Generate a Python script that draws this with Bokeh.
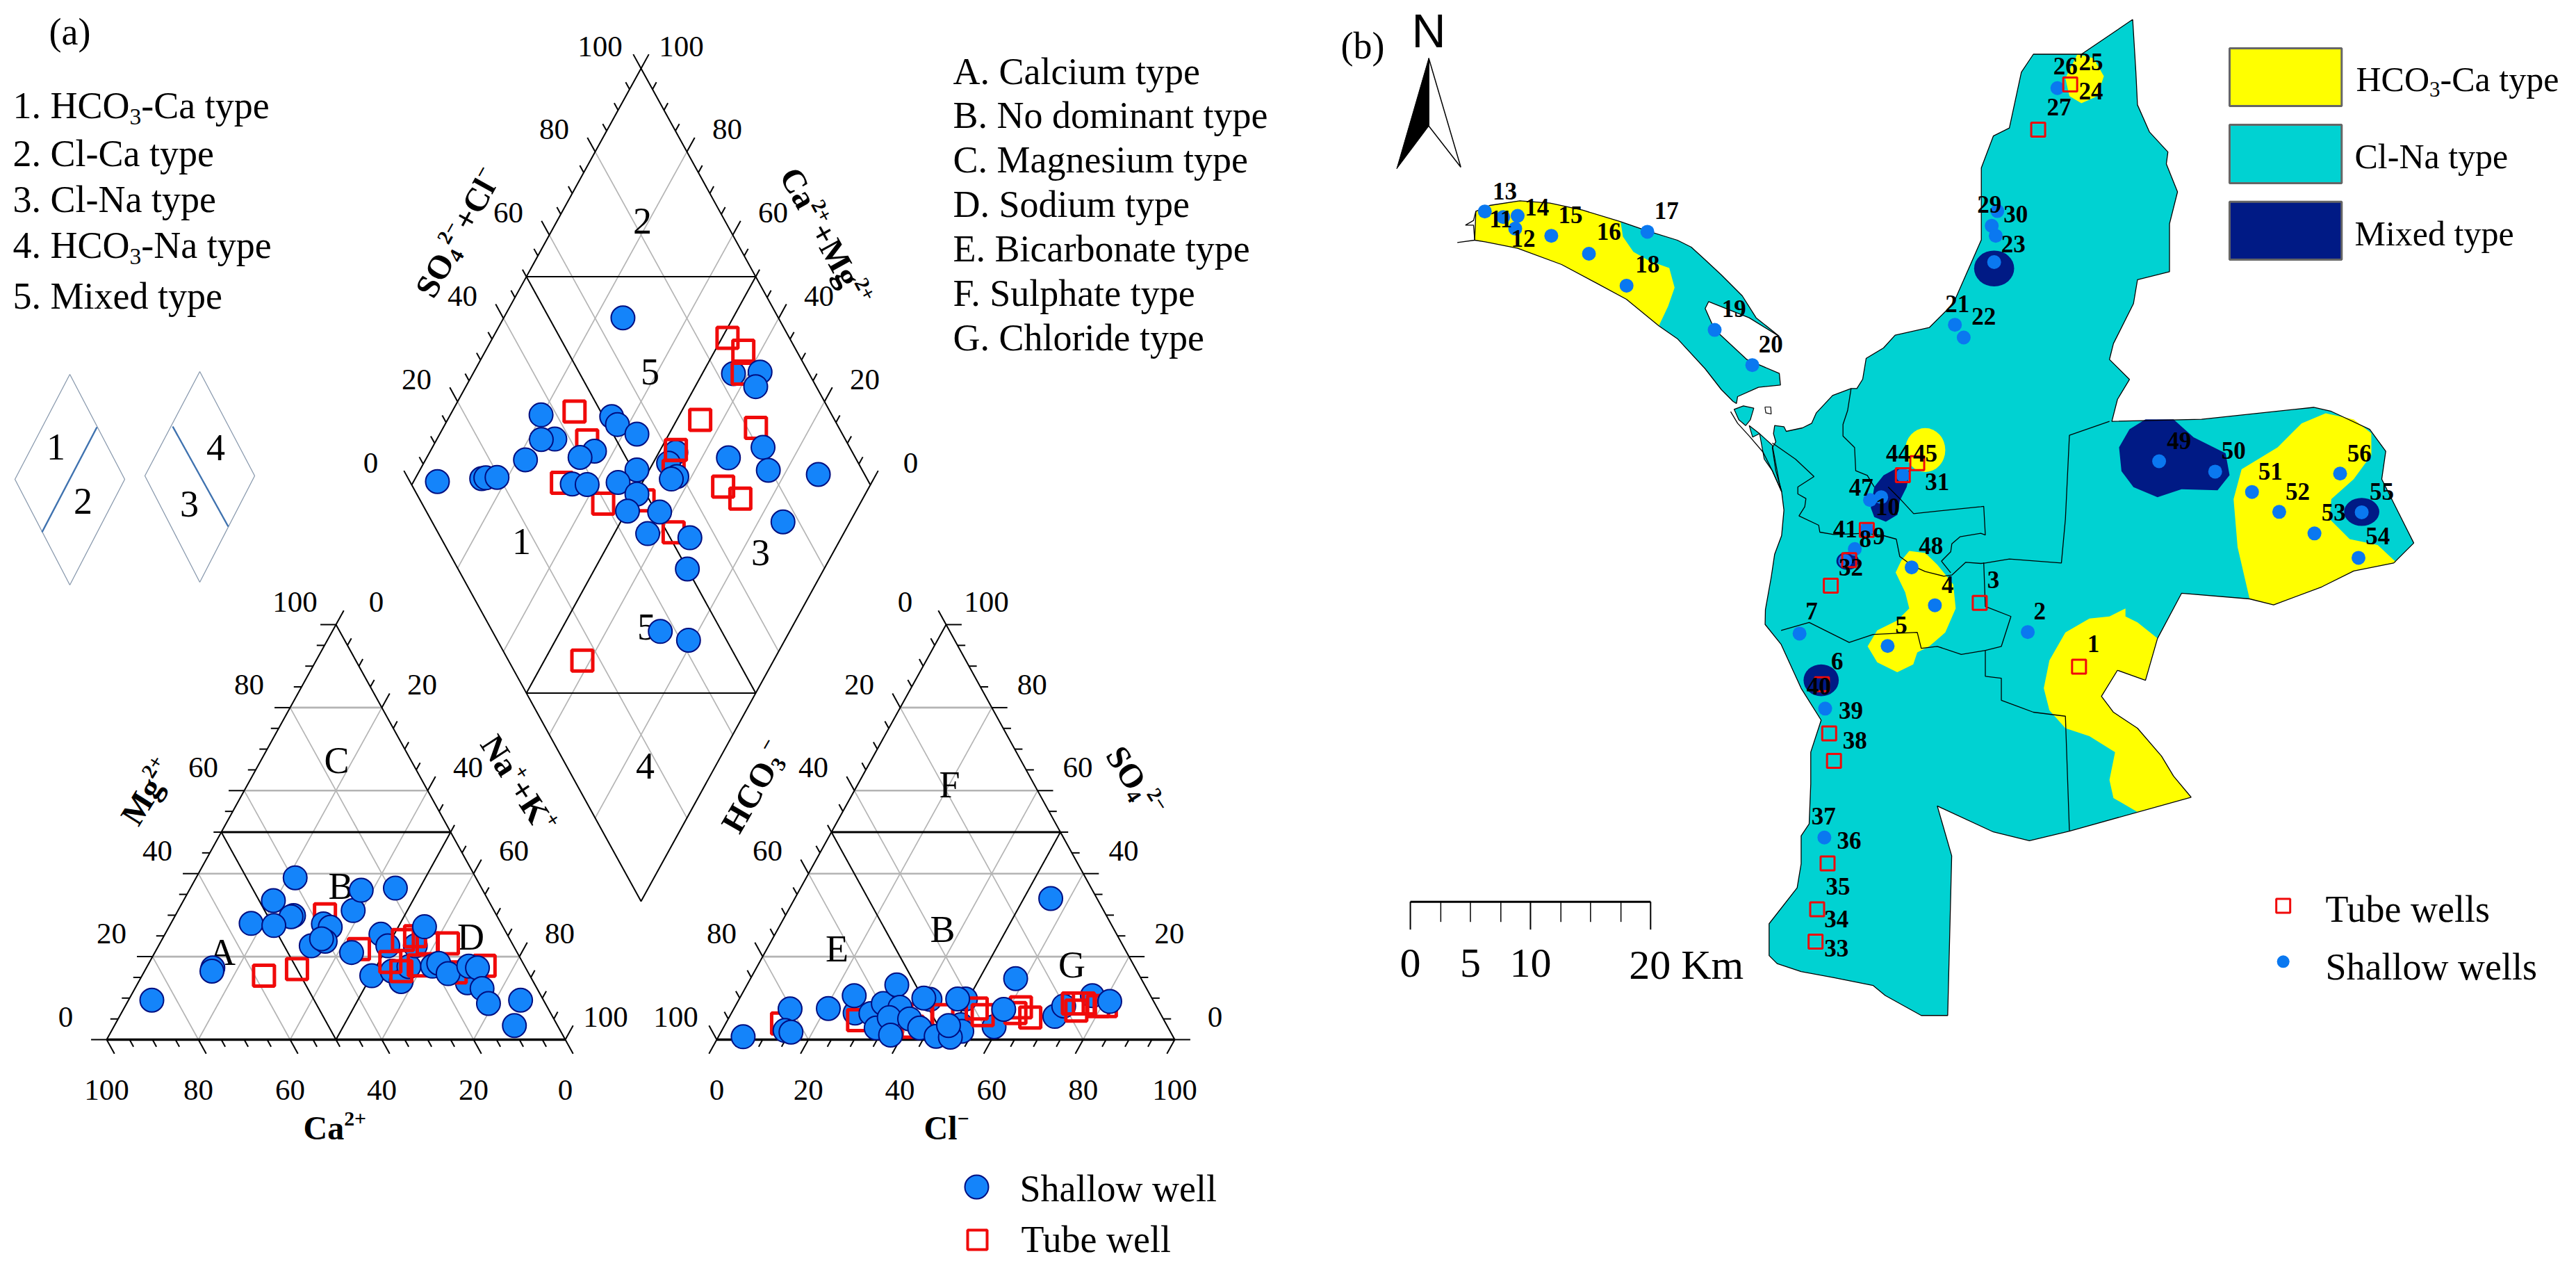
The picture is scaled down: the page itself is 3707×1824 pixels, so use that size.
import math
from bokeh.plotting import figure
from bokeh.models import Range1d
from bokeh.embed import file_html
from bokeh.resources import INLINE
from bokeh.core.properties import value

# ---- Piper data (percent) ----
cat_ca = [34.5,29.5,28.8,25.3,21.4,14.5,27.5,27.4,
          85.4,68.2,68.8,39.4,46.9,44.3,45,54.5,49.8,38.8,37.7,44.1,40.5,41,30.7,26.5,18.8,36.1,
          17.1,20.1,18.4,17.6,12.2,10.5,12,12.4,5,9.4]
cat_mg = [15.4,16.5,14,17.6,22.6,13.7,25.4,22.6,
          9.5,17.3,16.5,39,33.5,29.9,29.6,28,27.5,27.9,27.1,22.6,23.7,24.3,31.1,36,36.5,21,
          27.2,17.7,18.4,15.9,17.7,17.3,12.3,8.7,9.5,3.4]
N_CAT_BACK = 8
cat_tube_ca = [58,50,37.3,34.1,28.8,27.5,23.4,20.3,23,18.4,14,15.8,8.7]
cat_tube_mg = [15.4,17,30.2,21.8,18.7,16.5,24,24.9,17.9,23.2,23.2,16.2,17.8]

an_cl = [71,71.7,76.7,51.5,52.5,49.4,59,41.7,27,
         5.4,12.3,13.8,15.3,20.6,24.7,30.5,33.4,32,32.7,36.1,35,37.4,39.6,42.9,40.2,47.5,50.7,48.9,47.7,59,57.9,81.2,55.9]
an_so4 = [5.6,8.1,10.6,3.6,2,9.8,3.1,9.7,6.4,
          0.7,7.4,2.2,1.8,7.5,10.6,6.3,2.8,8.7,13.2,7.8,5.3,1.1,5,2.8,10,0.8,0.6,3.4,9.8,7.3,14.7,9.2,34]
N_AN_BACK = 9
an_tube_cl = [12.3,28.5,41.8,46.3,41.2,55.1,53,62.5,62,65.8,73.4,75.8,79.2,80.9,75]
an_tube_so4 = [3.9,4.7,6.1,5.9,3.1,5.9,7.5,7.8,6.4,5.3,8.7,8.7,8.1,8.1,7]

dia_p = [83.5,61.5,58.6,
         66.1,89.5,86.8,36.6,51.8,52.1,55.2,36.7,33.7,43.9,40,27.8,72.3,81.1,79.5,89.9,50.9,6,16,17,19.5,
         35.1,38.3,45.3,58.8,57.3,48,43.9,50.8,45.6,54.3,50,76.5,36.6,41.7]
dia_q = [43.2,46.3,46.6,
         74,37.6,36.8,80.2,64.6,62.4,57,74.3,77.2,64.2,66.6,78.2,34.2,27.9,24,12.6,52.7,94.8,85.5,84.7,82.3,
         65.1,61.8,55.3,43.2,44.1,49.8,49.8,42.7,42.7,33,29.8,14.6,28.2,21]
N_DIA_BACK = 3
dia_tube_p = [86.5,88.4,85.5,44.3,70.7,81.9,43.6,61.8,58.8,33,67.7,70,39.5,48.7,51.4,16.1]
dia_tube_q = [48.8,43.8,41.2,73.3,44.9,31.8,67.1,46.6,44.6,67.5,31.9,26.7,56,47.6,37.2,41.7]

tick_labels = [0,20,40,60,80,100]
water_types = [("1. HCO","3","-Ca type"),("2. Cl-Ca type",),("3. Cl-Na type",),("4. HCO","3","-Na type"),("5. Mixed type",)]
facies = ["A. Calcium type","B. No dominant type","C. Magnesium type","D. Sodium type",
          "E. Bicarbonate type","F. Sulphate type","G. Chloride type"]

# ---- Map geometry ----
def z1(pts): return [((550+a/3)/1.1524,(480+b/3)/.574) for a,b in pts]
def z2(pts): return [((180+a/3)/1.1524,(260+b/3)/.574) for a,b in pts]
land = [(1014,48),(1018,180),(1020,262),(1035,330),(1058,380),(1056,410),(1070,480),(1060,560),(1060,680),(1020,700),
 (1015,760),(990,860),(985,900),(1010,950),(995,1000),(988,1055),(1100,1050),(1240,1020),(1262,1030),(1310,1075),
 (1330,1130),(1325,1200),(1345,1280),(1365,1360),(1340,1410),(1290,1430),(1250,1470),(1190,1515),(1160,1500),(1075,1486),
 (1045,1599),(1030,1704),(995,1679),(975,1744),(990,1784),(1020,1824),(1050,1894),(1065,1944),(1087,1997),(935,2082),
 (885,2106),(840,2084),(770,2019),(788,2144),(783,2544),(750,2544),(705,2494),(690,2469),(640,2449),(600,2434),
 (570,2414),(560,2394),(560,2314),(595,2224),(600,2164),(600,2094),(610,2064),(612,1964),(612,1884),(625,1804),
 (600,1724),(575,1614),(555,1564)] + z1([(270,1190),(295,1050),(310,950),(340,870),(350,760),(340,680),(315,590),(300,490),
 (315,465),(305,430),(310,395),(350,400),(360,420),(430,405),(470,385),(490,340),(560,265),(640,235),(665,235),(690,195),
 (705,105),(780,60),(830,5)]) + [(760,820),(790,760),(825,600),(825,420),(840,340),(860,320),(875,180),(890,135),(950,135)]
spit = z2([(130,130),(190,105),(320,85),(450,95),(590,125),(755,175),(870,215),(1000,255),(1060,285),(1120,340),(1190,405),
 (1280,495),(1340,590),(1440,670),(1310,590),(1135,520),(1120,550),(1160,640),(1300,770),(1440,830),(1445,880),(1350,890),
 (1260,930),(1255,960),(1240,950),(1190,900),(1120,810),(1000,680),(920,625),(780,510),(650,440),(500,360),(310,290),(170,262),(125,255)])
spit_tip = z2([(125,255),(50,265),(125,255),(120,190),(85,190),(120,170),(130,130)])
islets = [z1([(135,325),(175,310),(220,320),(205,370),(185,395),(155,370)]),
          z1([(200,395),(245,430),(215,445)]),
          z1([(245,430),(300,480),(330,640),(340,680),(300,590),(265,540)])]
channel = z1([(120,335),(150,385),(200,440),(260,510),(300,590),(340,680)])
rocks = z1([(268,315),(293,315),(295,345),(272,340),(268,315)])
y_spit = z2([(130,130),(190,105),(320,85),(450,95),(590,125),(755,175),(765,240),(810,305),(880,345),(965,375),(988,460),(960,540),
 (920,625),(780,510),(650,440),(500,360),(310,290),(170,262),(125,255)])
y_north = [(945,135),(965,145),(978,190),(970,240),(950,258),(935,240),(930,195)]
y_band = [(735,1380),(755,1385),(770,1414),(790,1464),(793,1524),(780,1584),(760,1619),(745,1634),(740,1664),(720,1684),
 (695,1659),(683,1619),(695,1579),(720,1554),(735,1524),(730,1484),(718,1434),(725,1404)]
y_east = [(1255,1035),(1290,1050),(1312,1085),(1312,1140),(1290,1200),(1262,1250),(1260,1300),(1285,1350),(1320,1365),(1343,1408),
 (1290,1430),(1250,1470),(1190,1515),(1160,1500),(1145,1370),(1140,1250),(1150,1175),(1195,1120),(1225,1060)]
y_south = [(1005,1524),(1005,1544),(1020,1559),(1045,1599),(1030,1704),(995,1679),(975,1744),(990,1784),(1020,1824),(1050,1894),
 (1065,1944),(1087,1997),(1020,2034),(990,1999),(985,1954),(992,1884),(960,1844),(930,1824),(910,1779),(903,1724),(910,1654),(930,1584),(960,1549),(985,1544)]
n_49 = [(1030,1050),(1065,1050),(1090,1095),(1130,1135),(1135,1190),(1120,1228),(1075,1225),(1045,1245),(1015,1220),(1000,1180),(997,1120),(1010,1075)]
n_31 = z1([(835,580),(895,590),(880,660),(850,720),(840,780),(790,810),(740,790),(725,750),(740,660),(780,610)])
yellow_ellipses = [(755,1127,50,110)]
navy_ellipses = [(841,672,50,90),(1300,1282,44,70),(625,1704,44,80),(658,1405,28,45)]
borders = [
 z1([(640,235),(625,330),(605,390),(605,440),(655,490),(660,590),(710,610),(740,660)]),
 z1([(300,470),(400,540),(480,615),(410,660),(410,690),(445,710),(440,745),(415,785),(500,825),(505,855),(565,865),(700,860),(780,870),(835,885),(850,960),(905,1000),(960,1025),(1040,1045),(1075,1040),(1135,985),(1200,990)])+[(830,1410)],
 z1([(800,660),(850,710),(910,775),(1200,745)])+[(828,1268),(830,1340)]+z1([(1200,860),(1110,875),(1075,905),(1070,940),(1030,980),(1070,1030)]),
 [(830,1410),(860,1400),(925,1410),(930,1300),(935,1090),(985,1055)],
 [(828,1409),(830,1519),(862,1544),(850,1619),(830,1629),(830,1694),(850,1699),(850,1754),(890,1784),(930,1794),(935,2082)],
 [(575,1579),(610,1559),(660,1609),(690,1589),(745,1584),(750,1624),(770,1619),(800,1639),(830,1629)],
]
dots_x = [205,228,246,243,288,335,408,382,492,539,792,803,845,838,843,841,920,1047,1117,1163,1197,1241,1296,1300,1273,727,700,686,682,667,655,738,767,708,598,883,630,629]
dots_y = [529,543,540,572,590,635,580,715,826,914,813,845,528,565,590,656,220,1155,1181,1232,1282,1336,1397,1283,1186,1190,1245,1252,1325,1375,1405,1421,1516,1618,1587,1583,1775,2098]
boxes_x = [936,896,745,727,682,660,637,823,947,626,635,641,633,620,618]
boxes_y = [211,324,1160,1190,1327,1403,1467,1510,1670,1714,1837,1906,2163,2278,2359]
well_labels = [("13",230,478),("11",225,548),("14",270,518),("15",312,538),("12",253,597),("16",360,580),("17",432,527),("18",408,662),
 ("19",516,772),("20",562,862),("21",795,760),("22",828,792),("29",835,512),("30",868,535),("23",865,610),("26",930,165),("25",962,155),
 ("24",962,228),("27",922,268),("44",721,1135),("45",755,1135),("31",770,1207),("47",675,1220),("10",708,1270),("41",655,1325),("8",680,1350),
 ("9",697,1343),("32",662,1420),("48",762,1367),("4",783,1465),("3",840,1452),("2",898,1530),("5",725,1565),("7",613,1530),
 ("1",965,1612),("6",645,1656),("40",622,1719),("39",662,1779),("38",667,1854),("37",628,2044),("36",660,2106),("35",646,2221),("34",644,2302),("33",644,2376),
 ("49",1072,1103),("50",1140,1128),("51",1186,1180),("52",1220,1230),("53",1265,1283),("55",1325,1230),("54",1320,1343),("56",1297,1135)]

# ---- Colours ----
TEAL="#00D2D2"; YEL="#FFFF00"; NAVY="#001A85"; BLUE="#1484FA"; EDGE="#000E80"; RED="#F00A0A"; GRAY="#B4B4B4"; DOT="#0A78F0"
SERIF=value("Liberation Serif")

p = figure(width=3691,height=1816,x_range=Range1d(0,3691),y_range=Range1d(1816,0),
           output_backend="svg",toolbar_location=None,x_axis_location=None,y_axis_location=None,min_border=0)
p.grid.visible=False; p.outline_line_color=None; p.background_fill_color="white"; p.border_fill_color="white"

REG={' ':.25,'.':.25,'-':.333,'+':.564,'−':.564,'H':.722,'C':.667,'O':.722,'a':.444,'t':.278,'y':.5,'p':.5,'e':.444,'l':.278,'N':.722,'M':.889,'i':.278,'x':.5,'d':.5}
BLD={' ':.25,'+':.57,'−':.57,'S':.556,'O':.778,'C':.722,'l':.278,'a':.5,'M':.944,'g':.5,'N':.722,'K':.778,'H':.778}
def tw(s,bold):
    t=BLD if bold else REG
    return sum(t.get(c,.5) for c in s)
def rich(x,y,pieces,size,angle=0.0,bold=False):
    th=math.radians(angle)
    adv=0.0
    for s,f,sh in pieces:
        fs=size*f
        up=sh*size+0.30*fs
        px=x+adv*math.cos(th)-up*math.sin(th)
        py=y-adv*math.sin(th)-up*math.cos(th)
        p.text([px],[py],text=[s],angle=th,text_font=SERIF,text_font_size=f"{fs:.1f}px",
               text_font_style="bold" if bold else "normal",text_align="left",text_baseline="middle",text_color="black")
        adv+=tw(s,bold)*fs
def center(x,y,s,size,font=SERIF,style="normal"):
    p.text([x],[y],text=[s],text_font=font,text_font_size=f"{size}px",text_font_style=style,text_align="center",text_baseline="middle",text_color="black")
def seg(xs0,ys0,xs1,ys1,color,w):
    p.segment(xs0,ys0,xs1,ys1,line_color=color,line_width=w)

# ---- Piper geometry ----
CAT=((153,1495),(483,898),(813,1495)); AN=((1031,1495),(1361,898),(1690,1495))
CX,CY,W,H=922,697,330,599
def bary(T,a,b,c):
    return ((T[0][0]*a+T[1][0]*b+T[2][0]*c)/100,(T[0][1]*a+T[1][1]*b+T[2][1]*c)/100)
def dia(pv,qv):
    return (CX+(pv-qv)/100*W,CY+H-(pv+qv)/100*H)
MAJ,MIN=3.4,1.7

def draw_triangle(T,left_ext,bottom_ext,right_ext):
    for k in [20,40,60,80]:
        a=bary(T,100-k,k,0); b=bary(T,0,k,100-k); seg([a[0]],[a[1]],[b[0]],[b[1]],GRAY,2.6)
        a=bary(T,k,100-k,0); b=bary(T,k,0,100-k); seg([a[0]],[a[1]],[b[0]],[b[1]],GRAY,1.7)
        a=bary(T,0,100-k,k); b=bary(T,100-k,0,k); seg([a[0]],[a[1]],[b[0]],[b[1]],GRAY,1.7)
    L,A,R=T
    p.line([L[0],A[0],R[0]],[L[1],A[1],R[1]],line_color="black",line_width=2)
    seg([L[0]],[L[1]],[R[0]],[R[1]],"black",3.5)
    m1=bary(T,50,50,0); m2=bary(T,0,50,50); mb=bary(T,50,0,50)
    seg([m1[0]],[m1[1]],[m2[0]],[m2[1]],"black",3)
    seg([m1[0],m2[0]],[m1[1],m2[1]],[mb[0],mb[0]],[mb[1],mb[1]],"black",2)
    for k in range(0,101,5):
        e=MAJ if k%20==0 else MIN
        for base in (left_ext(k),bottom_ext(k),right_ext(k)):
            q0=bary(T,*base[0]); q1=bary(T,*[b+e*d for b,d in zip(base[0],base[1])])
            seg([q0[0]],[q0[1]],[q1[0]],[q1[1]],"black",2)

draw_triangle(CAT,
    lambda k:((100-k,k,0),(1,0,-1)),
    lambda k:((k,0,100-k),(0,-1,1)),
    lambda k:((0,100-k,k),(-1,1,0)))
draw_triangle(AN,
    lambda k:((k,100-k,0),(0,1,-1)),
    lambda k:((100-k,0,k),(1,-1,0)),
    lambda k:((0,k,100-k),(-1,0,1)))

for k in [20,40,60,80]:
    a=dia(k,0); b=dia(k,100); seg([a[0]],[a[1]],[b[0]],[b[1]],GRAY,1.7)
    a=dia(0,k); b=dia(100,k); seg([a[0]],[a[1]],[b[0]],[b[1]],GRAY,1.7)
cs=[dia(0,100),dia(100,100),dia(100,0),dia(0,0),dia(0,100)]
p.line([c[0] for c in cs],[c[1] for c in cs],line_color="black",line_width=2)
for a,b in ((dia(50,100),dia(100,50)),(dia(50,0),dia(0,50)),(dia(50,100),dia(50,0)),(dia(100,50),dia(0,50))):
    seg([a[0]],[a[1]],[b[0]],[b[1]],"black",2)
for k in range(0,101,5):
    e=MAJ if k%20==0 else MIN
    a=dia(k,100); b=dia(k,100+e); seg([a[0]],[a[1]],[b[0]],[b[1]],"black",2)
    a=dia(100,k); b=dia(100+e,k); seg([a[0]],[a[1]],[b[0]],[b[1]],"black",2)

TS=43
for v in tick_labels:
    x,y=bary(CAT,100-v,v,0); center(x-59,y-33,str(v),TS)
    x,y=bary(CAT,0,100-v,v); center(x+58,y-33,str(v),TS)
    x,y=bary(CAT,v,0,100-v); center(x,y+72,str(v),TS)
    x,y=bary(AN,v,100-v,0); center(x-59,y-33,str(v),TS)
    x,y=bary(AN,0,v,100-v); center(x+58,y-33,str(v),TS)
    x,y=bary(AN,100-v,0,v); center(x,y+72,str(v),TS)
    x,y=dia(v,100); center(x-59,y-32,str(v),TS)
    x,y=dia(100,v); center(x+58,y-32,str(v),TS)

for s,x,y in [("2",924,317),("5",935,534),("1",750,778),("3",1094,794),("5",930,901),("4",928,1101),
              ("C",484,1093),("B",490,1274),("A",319,1369),("D",677,1347),
              ("F",1366,1128),("B",1356,1336),("E",1204,1364),("G",1542,1387)]:
    center(x,y,s,54)

def mark_circles(xs,ys,size=34):
    p.scatter(xs,ys,marker="circle",size=size,fill_color=BLUE,line_color=EDGE,line_width=2)
def mark_boxes(xs,ys,size=30,w=5):
    p.scatter(xs,ys,marker="square",size=size,fill_color=None,line_color=RED,line_width=w)
def panel(pts,tubes,nback):
    mark_circles([q[0] for q in pts[:nback]],[q[1] for q in pts[:nback]])
    mark_boxes([q[0] for q in tubes],[q[1] for q in tubes])
    mark_circles([q[0] for q in pts[nback:]],[q[1] for q in pts[nback:]])

panel([bary(CAT,c,m,100-c-m) for c,m in zip(cat_ca,cat_mg)],[bary(CAT,c,m,100-c-m) for c,m in zip(cat_tube_ca,cat_tube_mg)],N_CAT_BACK)
panel([bary(AN,100-c-s,s,c) for c,s in zip(an_cl,an_so4)],[bary(AN,100-c-s,s,c) for c,s in zip(an_tube_cl,an_tube_so4)],N_AN_BACK)
panel([dia(a,b) for a,b in zip(dia_p,dia_q)],[dia(a,b) for a,b in zip(dia_tube_p,dia_tube_q)],N_DIA_BACK)

AT=48
rich(622,430,[("SO",1,0),("4",.62,-.18),("2−",.62,.38),("+Cl",1,0),("−",.62,.38)],AT,61,True)
rich(1122,251,[("Ca",1,0),("2+",.62,.38),("+Mg",1,0),("2+",.62,.38)],AT,-61,True)
rich(197,1189,[("Mg",1,0),("2+",.62,.38)],AT,58,True)
rich(691,1069,[("Na",1,0),("+",.62,.38),("+K",1,0),("+",.62,.38)],AT,-57,True)
rich(1062,1200,[("HCO",1,0),("3",.62,-.18),("−",.62,.42)],AT,60,True)
rich(1591,1085,[("SO",1,0),("4",.62,-.18),("2−",.62,.38)],AT,-57,True)
rich(436,1636,[("Ca",1,0),("2+",.62,.38)],AT,0,True)
rich(1329,1636,[("Cl",1,0),("−",.62,.38)],AT,0,True)

FS=54
rich(70,62,[("(a)",1,0)],FS)
for (row,b) in zip(water_types,[168,237,303,369,442]):
    if len(row)==3:
        rich(18,b,[(row[0],1,0),(row[1],.62,-.18),(row[2],1,0)],FS)
    else:
        rich(18,b,[(row[0],1,0)],FS)
for s,b in zip(facies,[119,182,246,310,374,438,502]):
    rich(1371,b,[(s,1,0)],FS)

for cx,top,mid,bot,ln in ((100,538,689,841,[(139,614),(60,765)]),(287,534,684,837,[(248,613),(328,757)])):
    p.line([cx,cx+79,cx,cx-79,cx],[top,mid,bot,mid,top],line_color="#8A9AAE",line_width=1.3)
    p.line([ln[0][0],ln[1][0]],[ln[0][1],ln[1][1]],line_color="#3F72AF",line_width=2.4)
center(80,642,"1",FS); center(119,720,"2",FS); center(310,643,"4",FS); center(272,724,"3",FS)

mark_circles([1405],[1707],34)
mark_boxes([1406],[1783],28,4)
rich(1467,1726,[("Shallow well",1,0)],FS)
rich(1469,1799,[("Tube well",1,0)],FS)

def mx(v): return 1900+1.1524*v
def my(v): return 0.574*v
def poly(pts,color,line=None,lw=1):
    p.patch([mx(a) for a,_ in pts],[my(b) for _,b in pts],fill_color=color,line_color=line,line_width=lw)
def outline(pts,lw=1.3):
    p.line([mx(a) for a,_ in pts],[my(b) for _,b in pts],line_color="black",line_width=lw)

poly(land,TEAL); poly(spit,TEAL)
for it in islets:
    poly(it,TEAL,"black",1.2)
for pts in (y_spit,y_north,y_band,y_east,y_south):
    poly(pts,YEL)
for ex,ey,ew,eh in yellow_ellipses:
    p.ellipse([mx(ex)],[my(ey)],width=ew*1.1524,height=eh*.574,fill_color=YEL,line_color=None)
poly(n_49,NAVY); poly(n_31,NAVY)
for ex,ey,ew,eh in navy_ellipses:
    p.ellipse([mx(ex)],[my(ey)],width=ew*1.1524,height=eh*.574,fill_color=NAVY,line_color=None)
for b in borders:
    outline(b,1.3)
outline(land+land[:1]); outline(spit+spit[:1]); outline(spit_tip); outline(channel); outline(rocks,1.2)

p.scatter([mx(v) for v in dots_x],[my(v) for v in dots_y],marker="circle",size=20,fill_color=DOT,line_color=None)
p.scatter([mx(v) for v in boxes_x],[my(v) for v in boxes_y],marker="square",size=20,fill_color=None,line_color=RED,line_width=3)
p.text([mx(l[1]) for l in well_labels],[my(l[2]) for l in well_labels],text=[l[0] for l in well_labels],
       text_font=SERIF,text_font_style="bold",text_font_size="35px",text_align="center",text_baseline="middle",text_color="black")

rich(1929,82,[("(b)",1,0)],FS)
p.patch([mx(135),mx(175),mx(135)],[my(145),my(418),my(315)],fill_color="white",line_color="black",line_width=1.5)
p.patch([mx(135),mx(95),mx(135)],[my(145),my(422),my(315)],fill_color="black",line_color="black",line_width=1)
center(mx(135),my(75),"N",68,value("Liberation Sans"))

for (t,b),c in zip(((120,265),(312,458),(505,650)),(YEL,TEAL,NAVY)):
    p.patch([mx(1135),mx(1275),mx(1275),mx(1135)],[my(t),my(t),my(b),my(b)],fill_color=c,line_color="#666666",line_width=3)
rich(3390,128,[("HCO",1,0),("3",.62,-.18),("-Ca type",1,0)],50)
rich(3388,239,[("Cl-Na type",1,0)],50)
rich(3388,350,[("Mixed type",1,0)],50)
p.scatter([mx(1202)],[my(2409)],marker="circle",size=18,fill_color=DOT,line_color=None)
p.scatter([mx(1202)],[my(2269)],marker="square",size=20,fill_color=None,line_color=RED,line_width=3)
rich(3346,1324,[("Tube wells",1,0)],FS)
rich(3346,1407,[("Shallow wells",1,0)],FS)

sx=[112,150,187,225,262,300,337,375,412]; st=[1,0,0,0,1,0,0,0,1]
sy0=my(1394+865)
seg([mx(112)],[sy0],[mx(412)],[sy0],"black",3)
for a,b in zip(sx,st):
    seg([mx(a)],[sy0],[mx(a)],[sy0+(40 if b else 29)],"black",2 if b else 1.5)
for s,a in (("0",112),("5",187),("10",262)):
    center(mx(a),1385,s,60)
rich(mx(385),1405,[("20 Km",1,0)],60)

open("out.html","w").write(file_html(p,INLINE))
